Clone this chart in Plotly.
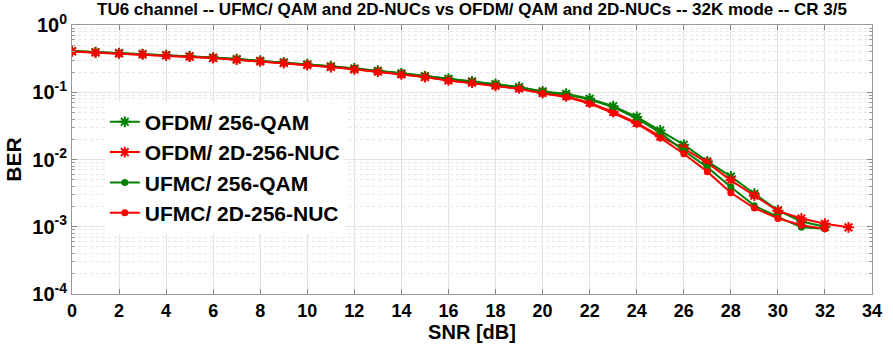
import plotly.graph_objects as go

snr = list(range(0, 34))

ofdm_qam = [0.41, 0.395, 0.382, 0.370, 0.357, 0.343, 0.328, 0.311, 0.294, 0.278,
            0.261, 0.244, 0.226, 0.209, 0.191, 0.174, 0.159, 0.145, 0.133, 0.120,
            0.103, 0.095, 0.080, 0.062, 0.043, 0.027, 0.0166, 0.0094, 0.0056, 0.0031,
            0.00175, 0.0012, 0.0010]
ofdm_nuc = [0.405, 0.390, 0.378, 0.366, 0.353, 0.338, 0.323, 0.305, 0.288, 0.272,
            0.254, 0.237, 0.219, 0.202, 0.184, 0.168, 0.150, 0.139, 0.125, 0.114,
            0.0975, 0.087, 0.070, 0.051, 0.035, 0.0221, 0.0145, 0.0090, 0.0049, 0.0029,
            0.00172, 0.00133, 0.00111, 0.00098]
ufmc_qam = [0.41, 0.395, 0.382, 0.370, 0.357, 0.343, 0.328, 0.311, 0.294, 0.278,
            0.261, 0.244, 0.226, 0.209, 0.191, 0.174, 0.158, 0.144, 0.132, 0.119,
            0.102, 0.093, 0.078, 0.060, 0.041, 0.025, 0.0135, 0.0077, 0.0039, 0.00206,
            0.0014, 0.00098, 0.00093]
ufmc_nuc = [0.405, 0.390, 0.378, 0.366, 0.353, 0.338, 0.323, 0.305, 0.288, 0.272,
            0.254, 0.237, 0.219, 0.202, 0.184, 0.168, 0.150, 0.138, 0.124, 0.113,
            0.096, 0.085, 0.068, 0.049, 0.034, 0.021, 0.0122, 0.0066, 0.0032, 0.0019,
            0.00133, 0.00105, 0.00093]

x_ticks = list(range(0, 35, 2))
y_tickvals = [1e-4, 1e-3, 1e-2, 1e-1, 1]
y_ticktext = ["10<sup>-4</sup>", "10<sup>-3</sup>", "10<sup>-2</sup>", "10<sup>-1</sup>", "10<sup>0</sup>"]

GREEN = "#008000"
RED = "#ff0000"

fig = go.Figure()
series = [
    ("OFDM/ 256-QAM", ofdm_qam, GREEN, "asterisk-open", 9),
    ("OFDM/ 2D-256-NUC", ofdm_nuc, RED, "asterisk-open", 9),
    ("UFMC/ 256-QAM", ufmc_qam, GREEN, "circle", 5),
    ("UFMC/ 2D-256-NUC", ufmc_nuc, RED, "circle", 5),
]
for name, vals, col, sym, sz in series:
    fig.add_trace(go.Scatter(
        x=snr[:len(vals)], y=vals, name=name, mode="lines+markers",
        line=dict(color=col, width=2),
        marker=dict(symbol=sym, size=sz, color=col, line=dict(color=col, width=2)),
    ))

minor_y = [m * 10.0 ** k for k in range(-4, 0) for m in range(2, 10)]

fig.update_layout(
    width=893, height=352,
    margin=dict(l=72, r=21, t=25, b=58),
    paper_bgcolor="white", plot_bgcolor="white",
    font=dict(family="Liberation Sans, Arial", color="black"),
    title=dict(text="TU6 channel -- UFMC/ QAM and 2D-NUCs vs OFDM/ QAM and 2D-NUCs -- 32K mode -- CR 3/5",
               x=0.5, xref="paper", xanchor="center", y=0.99, yanchor="top",
               font=dict(size=17, weight="bold", color="black")),
    showlegend=True,
    legend=dict(x=0.041, y=0.715, xanchor="left", yanchor="top",
                bgcolor="white", borderwidth=0,
                font=dict(size=21, weight="bold", color="black"),
                tracegroupgap=0, itemwidth=30),
    xaxis=dict(range=[0, 34], tickvals=x_ticks, ticks="inside", ticklen=5,
               tickcolor="#888888", showline=True, linecolor="#999999", linewidth=1, mirror="ticks",
               showgrid=True, gridcolor="#e3e3e3", gridwidth=1, zeroline=False,
               tickfont=dict(size=18, weight="bold", color="black"),
               title=dict(text="SNR [dB]", font=dict(size=20, weight="bold", color="black"), standoff=2)),
    yaxis=dict(type="log", range=[-4, 0], tickvals=y_tickvals, ticktext=y_ticktext,
               ticks="inside", ticklen=5, tickcolor="#888888",
               showline=True, linecolor="#999999", linewidth=1, mirror="ticks",
               showgrid=True, gridcolor="#e3e3e3", gridwidth=1, zeroline=False,
               tickfont=dict(size=20, weight="bold", color="black"),
               minor=dict(tickmode="array", tickvals=minor_y, ticks="inside", ticklen=3,
                          tickcolor="#999999", showgrid=True, gridcolor="#e6e6e6", griddash="dot"),
               title=dict(text="BER", font=dict(size=21, weight="bold", color="black"), standoff=4)),
)

fig.write_html("out.html")
